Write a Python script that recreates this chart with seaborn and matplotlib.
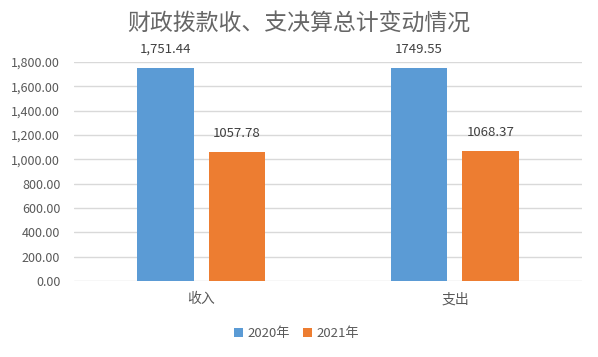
import pandas as pd
import matplotlib.pyplot as plt
import seaborn as sns
from matplotlib.ticker import FuncFormatter

sns.set_style("white")
plt.rcParams['font.family'] = ['Noto Sans CJK SC', 'DejaVu Sans']

# Data
categories = ['收入', '支出']
years = ['2020年', '2021年']
values_2020 = [1751.44, 1749.55]
values_2021 = [1057.78, 1068.37]
labels_2020 = ['1,751.44', '1749.55']
labels_2021 = ['1057.78', '1068.37']
colors = ['#5B9BD5', '#ED7D31']
text_color = '#595959'

df = pd.DataFrame({
    'category': categories * 2,
    'year': [years[0]] * 2 + [years[1]] * 2,
    'value': values_2020 + values_2021,
})

fig = plt.figure(figsize=(5.98, 3.57), dpi=100)
ax = fig.add_axes([0.124, 0.213, 0.849, 0.613])

sns.barplot(data=df, x='category', y='value', hue='year', palette=colors,
            width=0.567, gap=0.21, ax=ax, saturation=1, linewidth=0)

# Data labels
for container, labels in zip(ax.containers, [labels_2020, labels_2021]):
    ax.bar_label(container, labels=labels, padding=9, fontsize=9.5, color='#404040')

ax.set_ylim(0, 1800)
ax.set_yticks(range(0, 1801, 200))
ax.yaxis.set_major_formatter(FuncFormatter(lambda v, p: f'{v:,.2f}'))
ax.grid(axis='y', color='#D9D9D9', linewidth=1)
ax.set_axisbelow(True)
for s in ax.spines.values():
    s.set_visible(False)
ax.tick_params(axis='y', labelsize=9, colors=text_color, length=0, pad=10)
ax.tick_params(axis='x', labelsize=10, colors=text_color, length=0, pad=8)
ax.set_xlabel('')
ax.set_ylabel('')

# Title
fig.text(0.5, 0.935, '财政拨款收、支决算总计变动情况', ha='center', va='center',
         fontsize=16.5, color='#666666')

# Legend
ax.legend(loc='center', bbox_to_anchor=(0.5 - 0.124 / 2, -0.24),
          ncol=2, frameon=False, fontsize=9.5, labelcolor=text_color,
          handlelength=0.7, handleheight=0.7, handletextpad=0.3, columnspacing=1.0)

plt.savefig('out.png', dpi=100)
